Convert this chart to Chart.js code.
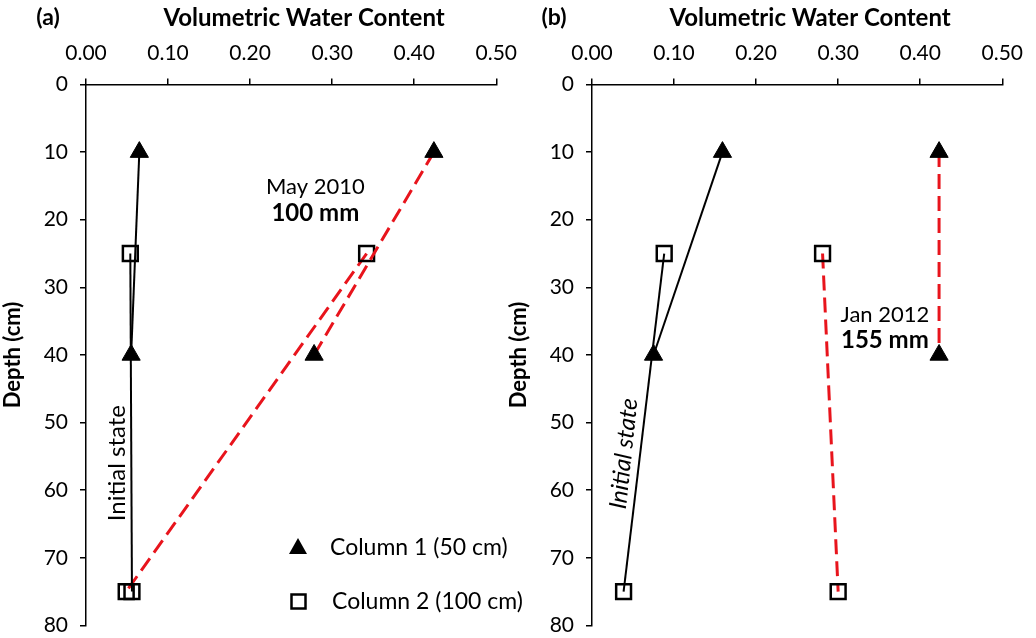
<!DOCTYPE html>
<html><head><meta charset="utf-8">
<script src="https://cdn.jsdelivr.net/npm/chart.js@4/dist/chart.umd.min.js"></script>
<style>
html,body{margin:0;padding:0;background:#fff;overflow:hidden;width:1036px;height:638px;}
.pan{position:absolute;top:0;width:530px;height:650px;}
canvas{display:block}
#wa{left:0}
#wb{left:506px}
</style></head><body>
<div class="pan" id="wa"><canvas id="ca" width="530" height="650"></canvas></div>
<div class="pan" id="wb"><canvas id="cb" width="530" height="650"></canvas></div>
<script>
// ---- data ----
const xTickValues = [0, 0.1, 0.2, 0.3, 0.4, 0.5];
const yTickValues = [0, 10, 20, 30, 40, 50, 60, 70, 80];
const depthC1 = [10, 40];   // Column 1 (50 cm) sensor depths
const depthC2 = [25, 75];   // Column 2 (100 cm) sensor depths
// panel (a)
const aC1Initial = [0.065, 0.055];
const aC2Initial = [0.054, 0.056];
const aC1May2010 = [0.424, 0.278];
const aC2May2010 = [0.342, 0.049];
// panel (b)
const bC1Initial = [0.159, 0.075];
const bC2Initial = [0.088, 0.0385];
const bC1Jan2012 = [0.423, 0.423];
const bC2Jan2012 = [0.281, 0.300];

const FONT = 'Lato, "Open Sans", sans-serif';
const RED = '#e8141c';

function pts(vals, depths){ return vals.map((v,i)=>({x:v, y:depths[i]})); }

function ds(vals, depths, kind, wet){
  const o = {
    data: pts(vals, depths), showLine: true,
    borderColor: wet ? RED : '#000', borderWidth: wet ? 3 : 2,
    borderDash: wet ? [15, 7] : [],
    pointBorderColor: '#000', pointHoverRadius: 0
  };
  if (kind === 'tri') { Object.assign(o, {pointStyle:'triangle', pointRadius:10.5, pointBackgroundColor:'#000', pointBorderWidth:1}); }
  else { Object.assign(o, {pointStyle:'rect', pointRadius:10.5, pointBackgroundColor:'rgba(0,0,0,0)', pointBorderWidth:2.5}); }
  return o;
}

function makePanel(id, label, c1i, c2i, c1w, c2w, notes){
  const annot = {
    id: 'annot'+id,
    afterDraw(chart){
      const ctx = chart.ctx, xs = chart.scales.x, ys = chart.scales.y, a = chart.chartArea;
      ctx.save();
      ctx.fillStyle = '#000';
      ctx.textAlign = 'center'; ctx.textBaseline = 'middle';
      ctx.font = 'bold 23px ' + FONT;
      ctx.fillText(label, 48, 18);
      ctx.font = 'bold 24px ' + FONT;
      ctx.fillText('Volumetric Water Content', (a.left + a.right) / 2 + 13, 18);
      notes.texts.forEach(t=>{
        ctx.font = (t.bold ? 'bold 24px ' : '22px ') + FONT;
        ctx.fillText(t.text, xs.getPixelForValue(t.x), ys.getPixelForValue(t.y));
      });
      const ini = notes.initial;
      ctx.translate(xs.getPixelForValue(ini.x), ys.getPixelForValue(ini.y));
      ctx.rotate(ini.rot * Math.PI/180);
      ctx.font = (ini.italic ? 'italic ' : '') + '24px ' + FONT;
      ctx.fillText('Initial state', 0, 0);
      ctx.restore();
      if (notes.legend){
        ctx.save();
        const lx = a.left + 212, ly1 = 548, ly2 = 602;
        ctx.fillStyle = '#000';
        ctx.beginPath();
        ctx.moveTo(lx, ly1 - 10); ctx.lineTo(lx + 9, ly1 + 6); ctx.lineTo(lx - 9, ly1 + 6); ctx.closePath(); ctx.fill();
        ctx.strokeStyle = '#000'; ctx.lineWidth = 2.5;
        ctx.strokeRect(lx - 6.5, ly2 - 7.5, 14, 14);
        ctx.font = '23px ' + FONT; ctx.textAlign = 'left'; ctx.textBaseline = 'middle';
        ctx.fillText('Column 1 (50 cm)', lx + 32, ly1);
        ctx.fillText('Column 2 (100 cm)', lx + 34, ly2);
        ctx.restore();
      }
    }
  };
  const tickFont = {family: FONT, size: 21};
  new Chart(document.getElementById(id), {
    type: 'scatter',
    data: { datasets: [
      ds(c1i, depthC1, 'tri', false),
      ds(c2i, depthC2, 'sq', false),
      ds(c1w, depthC1, 'tri', true),
      ds(c2w, depthC2, 'sq', true)
    ]},
    options: {
      responsive: false, animation: false,
      layout: { padding: {left: 0, top: 0, right: 29, bottom: 22} },
      plugins: { legend: {display:false}, tooltip: {enabled:false} },
      scales: {
        x: {
          type: 'linear', position: 'top', min: 0, max: 0.5,
          afterBuildTicks: s => { s.ticks = xTickValues.map(v=>({value:v})); },
          ticks: { callback: v => Number(v).toFixed(2), font: tickFont, color: '#000', padding: 13, maxRotation: 0, autoSkip: false },
          grid: { display: true, drawOnChartArea: false, drawTicks: true, tickLength: 6, color: '#000', lineWidth: 1.5 },
          border: { display: true, color: '#000', width: 1.5 },
          title: { display: false },
          afterFit: s => { s.height = 84.5; }
        },
        y: {
          type: 'linear', reverse: true, min: 0, max: 80,
          afterBuildTicks: s => { s.ticks = yTickValues.map(v=>({value:v})); },
          ticks: { font: tickFont, color: '#000', padding: 12, autoSkip: false },
          grid: { display: true, drawOnChartArea: false, drawTicks: true, tickLength: 6, color: '#000', lineWidth: 1.5 },
          border: { display: true, color: '#000', width: 1.5 },
          title: { display: true, text: 'Depth (cm)', font: {family: FONT, size: 22, weight: 'bold'}, color: '#000', padding: {top: 0, bottom: 9} },
          afterFit: s => { s.width = 86; }
        }
      }
    },
    plugins: [annot]
  });
}

makePanel('ca', '(a)', aC1Initial, aC2Initial, aC1May2010, aC2May2010, {
  texts: [ {text:'May 2010', x:0.2795, y:15.2, bold:false}, {text:'100 mm', x:0.2795, y:19.1, bold:true} ],
  initial: {x:0.0386, y:56, rot:-90, italic:false},
  legend: true
});
makePanel('cb', '(b)', bC1Initial, bC2Initial, bC1Jan2012, bC2Jan2012, {
  texts: [ {text:'Jan 2012', x:0.357, y:34.1, bold:false}, {text:'155 mm', x:0.357, y:37.9, bold:true} ],
  initial: {x:0.039, y:54.6, rot:-84, italic:true},
  legend: false
});
</script>
</body></html>
